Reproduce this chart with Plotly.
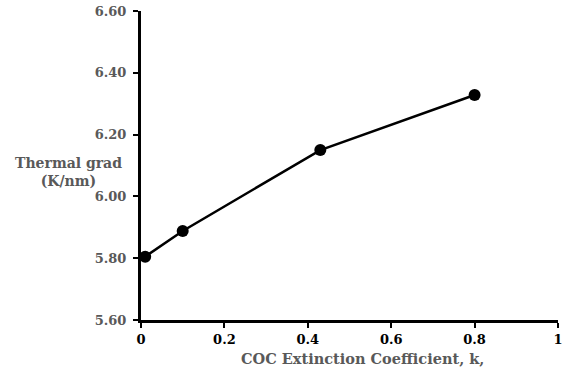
import plotly.graph_objects as go

k_values = [0.01, 0.1, 0.43, 0.8]
thermal_grad = [5.805, 5.888, 6.150, 6.328]
x_ticks = [0, 0.2, 0.4, 0.6, 0.8, 1]
x_tick_labels = ["0", "0.2", "0.4", "0.6", "0.8", "1"]
y_ticks = [5.6, 5.8, 6.0, 6.2, 6.4, 6.6]
y_tick_labels = ["5.60", "5.80", "6.00", "6.20", "6.40", "6.60"]

FONT = "DejaVu Serif"
GREY = "#595959"

fig = go.Figure()
fig.add_trace(go.Scatter(
    x=k_values, y=thermal_grad, mode="lines+markers",
    line=dict(color="black", width=2.5),
    marker=dict(color="black", size=12),
    showlegend=False, cliponaxis=False,
))

fig.update_layout(
    width=563, height=378,
    margin=dict(l=141, r=5, t=11, b=58, autoexpand=False),
    paper_bgcolor="white", plot_bgcolor="white",
    font=dict(family=FONT, size=13, color="black"),
    xaxis=dict(
        range=[0, 1], tickvals=x_ticks, ticktext=x_tick_labels,
        showline=True, linecolor="black", linewidth=3,
        ticks="outside", ticklen=5, tickwidth=2, tickcolor="black",
        showgrid=False, zeroline=False,
        tickfont=dict(family=FONT, size=13, color="black", weight="bold"),
    ),
    yaxis=dict(
        range=[5.6, 6.6], tickvals=y_ticks, ticktext=y_tick_labels,
        showline=True, linecolor="black", linewidth=3,
        ticks="outside", ticklen=5, tickwidth=2, tickcolor="black",
        showgrid=False, zeroline=False,
        tickfont=dict(family=FONT, size=13, color=GREY, weight="bold"),
        ticklabelstandoff=4,
    ),
    annotations=[
        dict(
            text="Thermal grad<br>(K/nm)", xref="paper", yref="paper",
            x=-0.175, y=0.479, showarrow=False, xanchor="center", yanchor="middle",
            font=dict(family=FONT, size=14, color=GREY, weight="bold"),
            align="center",
        ),
        dict(
            text="COC Extinction Coefficient, k,", xref="paper", yref="paper",
            x=0.53, y=-0.126, showarrow=False, xanchor="center", yanchor="middle",
            font=dict(family=FONT, size=14.5, color=GREY, weight="bold"),
        ),
    ],
)

fig.write_html("out.html", config={"displayModeBar": False},
               post_script="document.body.style.margin='0';")
